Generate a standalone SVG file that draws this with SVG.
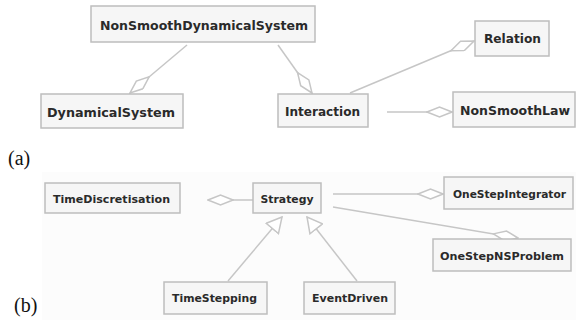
<svg xmlns="http://www.w3.org/2000/svg" width="576" height="320" viewBox="0 0 576 320">
<style>
.box{fill:#f6f6f6;stroke:#bdbdbd;stroke-width:1.5}
.t{font-family:"DejaVu Sans","Liberation Sans",sans-serif;font-weight:bold;fill:#2a2a2a;text-anchor:middle}
.big{font-size:13px}
.sm{font-size:11px}
.c{fill:none;stroke:#c6c6c6;stroke-width:1.5}
.lbl{font-family:"Liberation Serif",serif;font-size:20px;fill:#111}
</style>
<defs>
<marker id="dia" viewBox="-1 -6 27 12" refX="25" refY="0" markerWidth="27" markerHeight="12" markerUnits="userSpaceOnUse" orient="auto">
<path d="M0,0 L12.5,-5 L25,0 L12.5,5 Z" fill="#fff" stroke="#c6c6c6" stroke-width="1.5"/>
</marker>
<marker id="tri" viewBox="-1 -9 17 18" refX="15" refY="0" markerWidth="17" markerHeight="18" markerUnits="userSpaceOnUse" orient="auto">
<path d="M0,-8 L15,0 L0,8 Z" fill="#fff" stroke="#c6c6c6" stroke-width="1.5"/>
</marker>
</defs>
<rect x="0" y="0" width="576" height="320" fill="#fff"/>
<rect x="42" y="172" width="534" height="148" fill="#fcfcfc"/>
<g id="connectors">
<line class="c" x1="187" y1="45" x2="130" y2="93" marker-end="url(#dia)"/>
<line class="c" x1="278" y1="45" x2="312" y2="93" marker-end="url(#dia)"/>
<line class="c" x1="350" y1="93" x2="474" y2="41" marker-end="url(#dia)"/>
<line class="c" x1="387" y1="112" x2="452" y2="112" marker-end="url(#dia)"/>
<line class="c" x1="253" y1="200" x2="208" y2="200" marker-end="url(#dia)"/>
<line class="c" x1="333" y1="194" x2="443" y2="194" marker-end="url(#dia)"/>
<line class="c" x1="333" y1="207" x2="518" y2="238" marker-end="url(#dia)"/>
<line class="c" x1="228" y1="281" x2="282" y2="217" marker-end="url(#tri)"/>
<line class="c" x1="357" y1="281" x2="307" y2="217" marker-end="url(#tri)"/>
</g>
<g id="NonSmoothDynamicalSystem"><rect class="box" x="91" y="6" width="224" height="36"/><text class="t big" x="204" y="30" textLength="208" lengthAdjust="spacingAndGlyphs">NonSmoothDynamicalSystem</text></g>
<g id="DynamicalSystem"><rect class="box" x="41" y="94" width="142" height="34"/><text class="t big" x="111" y="117" textLength="128" lengthAdjust="spacingAndGlyphs">DynamicalSystem</text></g>
<g id="Interaction"><rect class="box" x="278" y="94" width="90" height="33"/><text class="t big" x="322.5" y="116" textLength="75" lengthAdjust="spacingAndGlyphs">Interaction</text></g>
<g id="Relation"><rect class="box" x="475" y="21" width="74" height="35"/><text class="t big" x="512.5" y="43" textLength="57" lengthAdjust="spacingAndGlyphs">Relation</text></g>
<g id="NonSmoothLaw"><rect class="box" x="453" y="92" width="122" height="35"/><text class="t big" x="515" y="115" textLength="110" lengthAdjust="spacingAndGlyphs">NonSmoothLaw</text></g>
<g id="TimeDiscretisation"><rect class="box" x="45" y="183" width="135" height="30"/><text class="t sm" x="111.5" y="203" textLength="117" lengthAdjust="spacingAndGlyphs">TimeDiscretisation</text></g>
<g id="Strategy"><rect class="box" x="253" y="183" width="68" height="30"/><text class="t sm" x="287" y="203" textLength="53" lengthAdjust="spacingAndGlyphs">Strategy</text></g>
<g id="OneStepIntegrator"><rect class="box" x="444" y="177" width="129" height="32"/><text class="t sm" x="509.5" y="198" textLength="113" lengthAdjust="spacingAndGlyphs">OneStepIntegrator</text></g>
<g id="OneStepNSProblem"><rect class="box" x="433" y="239" width="138" height="32"/><text class="t sm" x="502" y="260" textLength="124" lengthAdjust="spacingAndGlyphs">OneStepNSProblem</text></g>
<g id="TimeStepping"><rect class="box" x="164" y="282" width="103" height="32"/><text class="t sm" x="214.5" y="302" textLength="85" lengthAdjust="spacingAndGlyphs">TimeStepping</text></g>
<g id="EventDriven"><rect class="box" x="304" y="282" width="91" height="32"/><text class="t sm" x="350" y="302" textLength="76" lengthAdjust="spacingAndGlyphs">EventDriven</text></g>
<text class="lbl" x="8" y="165">(a)</text>
<text class="lbl" x="14" y="312">(b)</text>
</svg>
